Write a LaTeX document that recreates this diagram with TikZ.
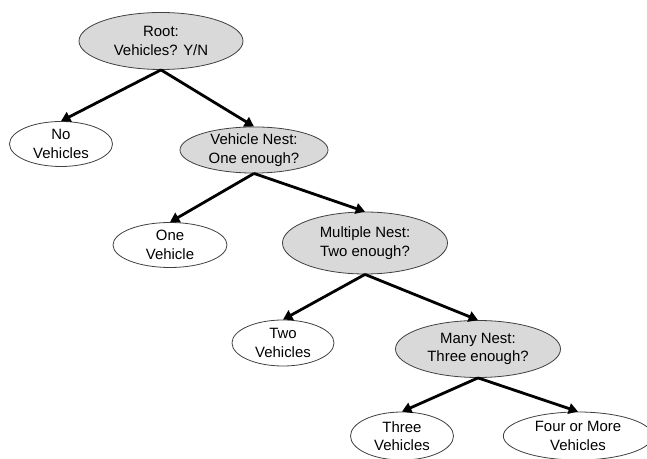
\documentclass[tikz,border=0pt]{standalone}
\usepackage{fontspec}
\setmainfont{Liberation Sans}
\usetikzlibrary{shapes.geometric,arrows.meta}
\begin{document}
\begin{tikzpicture}[x=0.75pt,y=-0.75pt,
  base/.style={ellipse,draw=black!75,line width=0.6pt,inner sep=0pt,align=center,
    font=\fontsize{11.2pt}{14pt}\selectfont},
  nest/.style={base,fill=black!15},
  leaf/.style={base,fill=white},
  arr/.style={line width=2.1pt,-{Triangle[length=7pt,width=8pt]}}]
\useasboundingbox (0,0) rectangle (647,459);
\clip (0,0) rectangle (647,459);
\fill[white] (0,0) rectangle (647,459);
\node[nest,minimum width=123pt,minimum height=42.75pt] (root) at (161,41) {Root:\\Vehicles? Y/N};
\node[leaf,minimum width=77.25pt,minimum height=33.75pt] (nov) at (61,144) {No\\Vehicles};
\node[nest,minimum width=111pt,minimum height=33.75pt] (vn) at (254,150) {Vehicle Nest:\\One enough?};
\node[leaf,minimum width=85.5pt,minimum height=33.75pt] (onev) at (170,245) {One\\Vehicle};
\node[nest,minimum width=123.75pt,minimum height=46.5pt] (mn) at (365,243) {Multiple Nest:\\Two enough?};
\node[leaf,minimum width=76.5pt,minimum height=34.5pt] (twov) at (283,343) {Two\\Vehicles};
\node[nest,minimum width=123.75pt,minimum height=42.75pt] (man) at (478,349) {Many Nest:\\Three enough?};
\node[leaf,minimum width=77.25pt,minimum height=36pt] (thv) at (402,436) {Three\\Vehicles};
\node[leaf,minimum width=112pt,minimum height=36pt] (four) at (578,436) {Four or More\\Vehicles};
\draw[arr] (root.south) -- (nov.north);
\draw[arr] (root.south) -- (vn.north);
\draw[arr] (vn.south) -- (onev.north);
\draw[arr] (vn.south) -- (mn.north);
\draw[arr] (mn.south) -- (twov.north);
\draw[arr] (mn.south) -- (man.north);
\draw[arr] (man.south) -- (thv.north);
\draw[arr] (man.south) -- (four.north);
\end{tikzpicture}
\end{document}
